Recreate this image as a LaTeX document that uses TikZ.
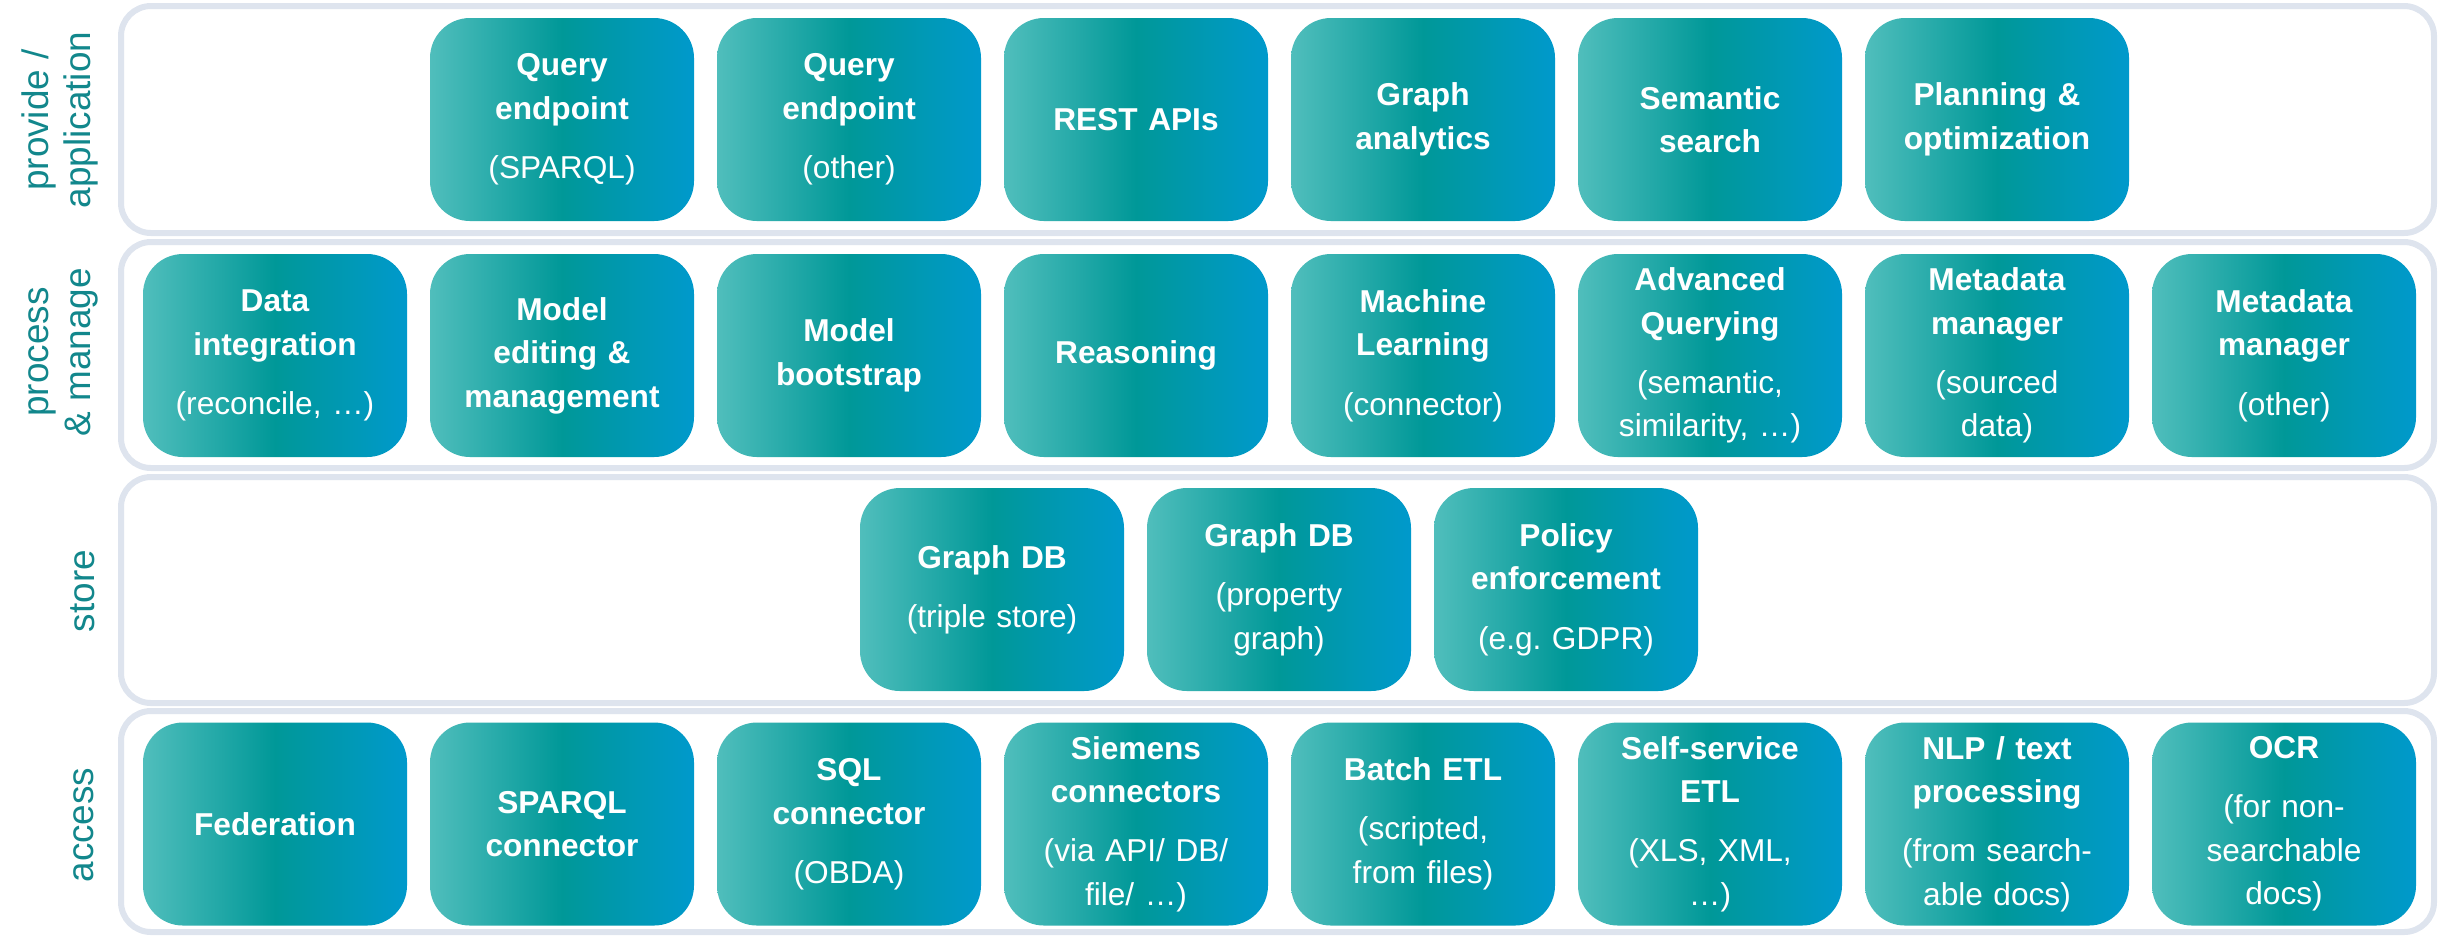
\documentclass[tikz,border=0pt]{standalone}
\usepackage{fontspec}
\setmainfont{Liberation Sans}
\usetikzlibrary{calc}
\frenchspacing

\definecolor{tealL}{RGB}{80,190,188}
\definecolor{tealM}{RGB}{0,152,152}
\definecolor{tealR}{RGB}{0,153,204}
\definecolor{layerline}{RGB}{222,228,238}
\definecolor{layertext}{RGB}{18,135,140}

\begin{document}
\begin{tikzpicture}[
  x=0.1mm, y=-0.1mm,
  layer/.style = {draw=layerline, line width=0.6mm, rounded corners=3mm, fill=white},
  layerlabel/.style = {rotate=90, align=center, inner sep=0pt, text=layertext, font=\fontsize{10.5}{12}\selectfont},
  comp/.style = {rounded corners=4mm, minimum width=26.4mm, minimum height=20.3mm, text width=26mm, inner sep=0pt,
    align=center, text=white, left color=tealL, right color=tealR, middle color=tealM,
    font=\fontsize{9}{12.4}\selectfont}
]

% Rows
\def\rowProvide{119.5}
\def\rowProcess{355.5}
\def\rowStore{589.5}
\def\rowAccess{824}
\def\gap{4.4pt}

\useasboundingbox (0,0) rectangle (2446,936);

% Layer frames
\draw[layer] (121,6) rectangle (2434,233);
\draw[layer] (121,242) rectangle (2434,468);
\draw[layer] (121,477) rectangle (2434,703);
\draw[layer] (121,711) rectangle (2434,932);

% Layer labels
\node[layerlabel] (lblProvide) at (60,120) {provide /\\application};
\node[layerlabel] (lblProcess) at (63,352) {process\\\& manage};
\node[layerlabel] (lblStore) at (83,591) {store};
\node[layerlabel] (lblAccess) at (84,825) {access};

% provide / application
\node[comp] (qSparql) at (562,\rowProvide) {{\bfseries Query\\endpoint}\\[\gap](SPARQL)};
\node[comp] (qOther) at (849,\rowProvide) {{\bfseries Query\\endpoint}\\[\gap](other)};
\node[comp] (restApi) at (1136,\rowProvide) {\bfseries REST APIs};
\node[comp] (graphAna) at (1423,\rowProvide) {\bfseries Graph\\analytics};
\node[comp] (semSearch) at (1710,\rowProvide) {\bfseries Semantic\\search};
\node[comp] (planning) at (1997,\rowProvide) {\bfseries Planning \&\\optimization};

% process & manage
\node[comp] (dataInt) at (275,\rowProcess) {{\bfseries Data\\integration}\\[\gap](reconcile, …)};
\node[comp] (modelEdit) at (562,\rowProcess) {\bfseries Model\\editing \&\\management};
\node[comp] (modelBoot) at (849,\rowProcess) {\bfseries Model\\bootstrap};
\node[comp] (reasoning) at (1136,\rowProcess) {\bfseries Reasoning};
\node[comp] (machLearn) at (1423,\rowProcess) {{\bfseries Machine\\Learning}\\[\gap](connector)};
\node[comp] (advQuery) at (1710,\rowProcess) {{\bfseries Advanced\\Querying}\\[\gap](semantic,\\similarity, …)};
\node[comp] (metaSourced) at (1997,\rowProcess) {{\bfseries Metadata\\manager}\\[\gap](sourced\\data)};
\node[comp] (metaOther) at (2284,\rowProcess) {{\bfseries Metadata\\manager}\\[\gap](other)};

% store
\node[comp] (gdbTriple) at (992,\rowStore) {{\bfseries Graph DB}\\[\gap](triple store)};
\node[comp] (gdbProp) at (1279,\rowStore) {{\bfseries Graph DB}\\[\gap](property\\graph)};
\node[comp] (policy) at (1566,\rowStore) {{\bfseries Policy\\enforcement}\\[\gap](e.g. GDPR)};

% access
\node[comp] (federation) at (275,\rowAccess) {\bfseries Federation};
\node[comp] (sparqlConn) at (562,\rowAccess) {\bfseries SPARQL\\connector};
\node[comp] (sqlConn) at (849,\rowAccess) {{\bfseries SQL\\connector}\\[\gap](OBDA)};
\node[comp] (siemensConn) at (1136,\rowAccess) {{\bfseries Siemens\\connectors}\\[\gap](via API/ DB/\\file/ …)};
\node[comp] (batchEtl) at (1423,\rowAccess) {{\bfseries Batch ETL}\\[\gap](scripted,\\from files)};
\node[comp] (selfEtl) at (1710,\rowAccess) {{\bfseries Self-service\\ETL}\\[\gap](XLS, XML,\\…)};
\node[comp] (nlpText) at (1997,\rowAccess) {{\bfseries NLP / text\\processing}\\[\gap](from search-\\able docs)};
\node[comp] (ocr) at (2284,\rowAccess) {{\bfseries OCR}\\[\gap](for non-\\searchable\\docs)};

\end{tikzpicture}
\end{document}
